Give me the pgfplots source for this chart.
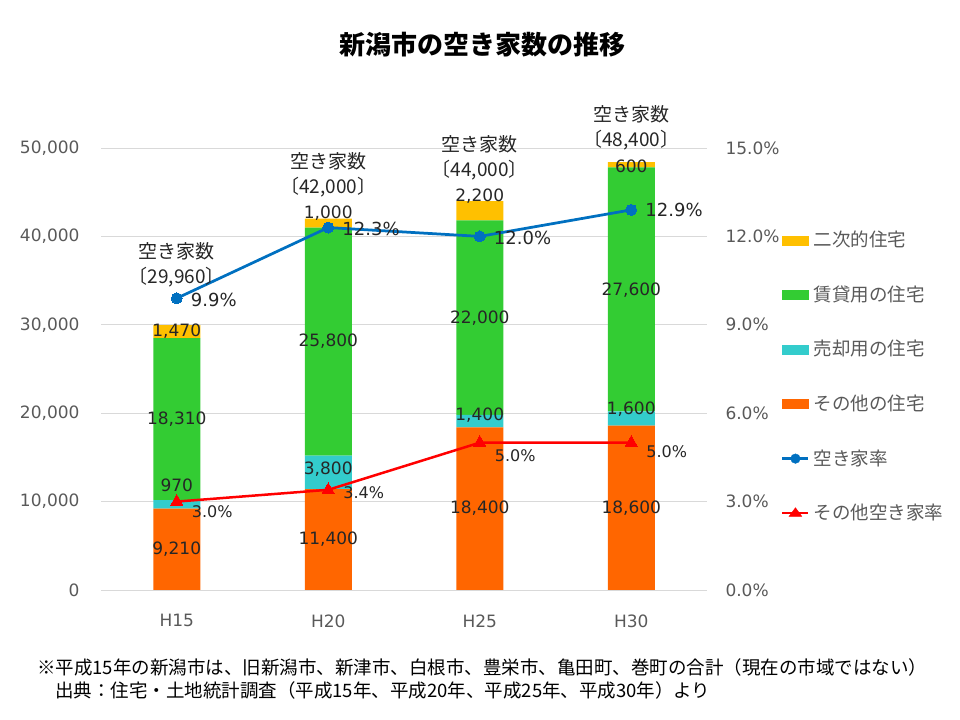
\documentclass[border=0pt]{standalone}
\usepackage{fontspec}
\setmainfont{Noto Sans CJK JP}
\newfontfamily\numfont{DejaVu Sans}
\usepackage{pgfplots}
\usepackage{pgfplotstable}
\pgfplotsset{compat=1.18}

\definecolor{cOther}{HTML}{FF6600}
\definecolor{cSale}{HTML}{33CCCC}
\definecolor{cRent}{HTML}{33CC33}
\definecolor{cSecond}{HTML}{FFC000}
\definecolor{cRate}{HTML}{0070C0}
\definecolor{cOtherRate}{HTML}{FF0000}
\definecolor{tickgray}{HTML}{595959}
\definecolor{gridgray}{HTML}{D9D9D9}
\definecolor{lbl}{HTML}{262626}

% 空き家数（種類別）
\pgfplotstableread{
x other sale rent second
0 9210  970  18310 1470
1 11400 3800 25800 1000
2 18400 1400 22000 2200
3 18600 1600 27600 600
}\houses

% 空き家率・その他空き家率 (%)
\pgfplotstableread{
x rate otherrate
0 9.9  3.0
1 12.3 3.4
2 12.0 5.0
3 12.9 5.0
}\rates

\tikzset{
  vlab/.style={font=\numfont\fontsize{17bp}{20bp}\selectfont, text=lbl, inner sep=0pt},
  tlab/.style={font=\fontsize{19bp}{25bp}\selectfont, text=lbl, inner sep=0pt, align=center},
  blab/.style={font=\numfont\fontsize{18bp}{22bp}\selectfont, text=lbl, inner sep=0pt, anchor=west, xshift=14bp},
  rlab/.style={font=\numfont\fontsize{16bp}{20bp}\selectfont, text=lbl, inner sep=0pt, anchor=west, xshift=15bp},
}

\begin{document}
\begin{tikzpicture}
\path[use as bounding box] (0,0) rectangle (960bp,720bp);

% 棒グラフ（左軸）
\begin{axis}[
    at={(101bp,130bp)}, anchor=south west,
    scale only axis, width=606bp, height=442bp,
    xmin=-0.5, xmax=3.5, ymin=0, ymax=50000,
    ybar stacked, bar width=47bp,
    xtick={0,1,2,3}, xticklabels={H15,H20,H25,H30},
    ytick={0,10000,...,50000},
    scaled y ticks=false,
    /pgf/number format/1000 sep={,},
    /pgf/number format/assume math mode=true,
    ymajorgrids, major grid style={gridgray, line width=0.75bp},
    axis line style={draw=none}, major tick length=0pt,
    tick label style={font=\numfont\fontsize{17bp}{20bp}\selectfont, text=tickgray},
    yticklabel style={xshift=-18bp},
    xticklabel style={yshift=-21bp},
    clip=false,
]
\addplot[fill=cOther, draw=none] table[x=x, y=other] {\houses};
\addplot[fill=cSale, draw=none] table[x=x, y=sale] {\houses};
\addplot[fill=cRent, draw=none] table[x=x, y=rent] {\houses};
\addplot[fill=cSecond, draw=none] table[x=x, y=second] {\houses};

% ラベル位置（棒の上に後で描く）
\coordinate (a1) at (axis cs:0,4605);
\coordinate (a2) at (axis cs:0,11878);
\coordinate (a3) at (axis cs:0,19335);
\coordinate (a4) at (axis cs:0,29225);
\coordinate (a5) at (axis cs:0,36821);
\coordinate (b1) at (axis cs:1,5700);
\coordinate (b2) at (axis cs:1,13700);
\coordinate (b3) at (axis cs:1,28100);
\coordinate (b4) at (axis cs:1,42647);
\coordinate (b5) at (axis cs:1,47002);
\coordinate (c1) at (axis cs:2,9200);
\coordinate (c2) at (axis cs:2,19796);
\coordinate (c3) at (axis cs:2,30800);
\coordinate (c4) at (axis cs:2,44570);
\coordinate (c5) at (axis cs:2,48925);
\coordinate (d1) at (axis cs:3,9300);
\coordinate (d2) at (axis cs:3,20475);
\coordinate (d3) at (axis cs:3,33937);
\coordinate (d4) at (axis cs:3,47964);
\coordinate (d5) at (axis cs:3,52319);
\end{axis}

% 折れ線（右軸）
\begin{axis}[
    at={(101bp,130bp)}, anchor=south west,
    scale only axis, width=606bp, height=442bp,
    xmin=-0.5, xmax=3.5, ymin=0, ymax=15,
    axis x line=none, axis y line*=right,
    axis line style={draw=none}, major tick length=0pt,
    ytick={0,3,...,15},
    /pgf/number format/assume math mode=true,
    yticklabel={\pgfmathprintnumber[fixed,fixed zerofill,precision=1]{\tick}\%},
    tick label style={font=\numfont\fontsize{17bp}{20bp}\selectfont, text=tickgray},
    yticklabel style={xshift=15bp},
    clip=false,
    legend style={draw=none, fill=none, inner sep=0pt,
        at={(1.1221,0.8133)}, anchor=north west,
        font=\fontsize{18.5bp}{22bp}\selectfont, text=tickgray,
        row sep=35.6bp, column sep=4bp,
        nodes={inner sep=0pt, text height=16bp, text depth=3bp}},
    legend cell align=left,
]
\addlegendimage{legend image code/.code={\fill[cSecond] (0bp,-4.5bp) rectangle (26bp,4.5bp);}}
\addlegendentry{二次的住宅}
\addlegendimage{legend image code/.code={\fill[cRent] (0bp,-4.5bp) rectangle (26bp,4.5bp);}}
\addlegendentry{賃貸用の住宅}
\addlegendimage{legend image code/.code={\fill[cSale] (0bp,-4.5bp) rectangle (26bp,4.5bp);}}
\addlegendentry{売却用の住宅}
\addlegendimage{legend image code/.code={\fill[cOther] (0bp,-4.5bp) rectangle (26bp,4.5bp);}}
\addlegendentry{その他の住宅}
\addlegendimage{legend image code/.code={\draw[cRate, line width=2.5bp] (0bp,0bp) -- (26bp,0bp); \fill[cRate] (13bp,0bp) circle (4.8bp);}}
\addlegendentry{空き家率}
\addlegendimage{legend image code/.code={\draw[cOtherRate, line width=2.5bp] (0bp,0bp) -- (26bp,0bp); \fill[cOtherRate] (13bp,5.5bp) -- (6.6bp,-3.2bp) -- (19.4bp,-3.2bp) -- cycle;}}
\addlegendentry{その他空き家率}

\addplot[cRate, line width=2.75bp, mark=*, mark size=5.5bp, mark options={fill=cRate, draw=cRate, line width=0pt}, forget plot]
    table[x=x, y=rate] {\rates};
\addplot[cOtherRate, line width=2.5bp, mark=triangle*, mark size=7bp, mark options={fill=cOtherRate, draw=cOtherRate, line width=0pt}, forget plot]
    table[x=x, y=otherrate] {\rates};

\coordinate (p1) at (axis cs:0,9.85);
\coordinate (p2) at (axis cs:1,12.25);
\coordinate (p3) at (axis cs:2,11.95);
\coordinate (p4) at (axis cs:3,12.9);
\coordinate (q1) at (axis cs:0,2.65);
\coordinate (q2) at (axis cs:1,3.29);
\coordinate (q3) at (axis cs:2,4.55);
\coordinate (q4) at (axis cs:3,4.68);
\end{axis}

% データラベル
\node[vlab] at (a1) {9,210};
\node[vlab] at (a2) {970};
\node[vlab] at (a3) {18,310};
\node[vlab] at (a4) {1,470};
\node[tlab] at (a5) {空き家数\\〔29,960〕};
\node[vlab] at (b1) {11,400};
\node[vlab] at (b2) {3,800};
\node[vlab] at (b3) {25,800};
\node[vlab] at (b4) {1,000};
\node[tlab] at (b5) {空き家数\\〔42,000〕};
\node[vlab] at (c1) {18,400};
\node[vlab] at (c2) {1,400};
\node[vlab] at (c3) {22,000};
\node[vlab] at (c4) {2,200};
\node[tlab] at (c5) {空き家数\\〔44,000〕};
\node[vlab] at (d1) {18,600};
\node[vlab] at (d2) {1,600};
\node[vlab] at (d3) {27,600};
\node[vlab] at (d4) {600};
\node[tlab] at (d5) {空き家数\\〔48,400〕};

\node[blab] at (p1) {9.9\%};
\node[blab] at (p2) {12.3\%};
\node[blab] at (p3) {12.0\%};
\node[blab] at (p4) {12.9\%};
\node[rlab] at (q1) {3.0\%};
\node[rlab] at (q2) {3.4\%};
\node[rlab] at (q3) {5.0\%};
\node[rlab] at (q4) {5.0\%};

\node[font=\bfseries\fontsize{26bp}{30bp}\selectfont] at (482bp,675bp) {新潟市の空き家数の推移};
\node[anchor=west, inner sep=0pt, font=\fontsize{18.5bp}{22bp}\selectfont] at (37bp,53bp)
    {※平成15年の新潟市は、旧新潟市、新津市、白根市、豊栄市、亀田町、巻町の合計（現在の市域ではない）};
\node[anchor=west, inner sep=0pt, font=\fontsize{18.5bp}{22bp}\selectfont] at (55bp,30bp)
    {出典：住宅・土地統計調査（平成15年、平成20年、平成25年、平成30年）より};
\end{tikzpicture}
\end{document}
